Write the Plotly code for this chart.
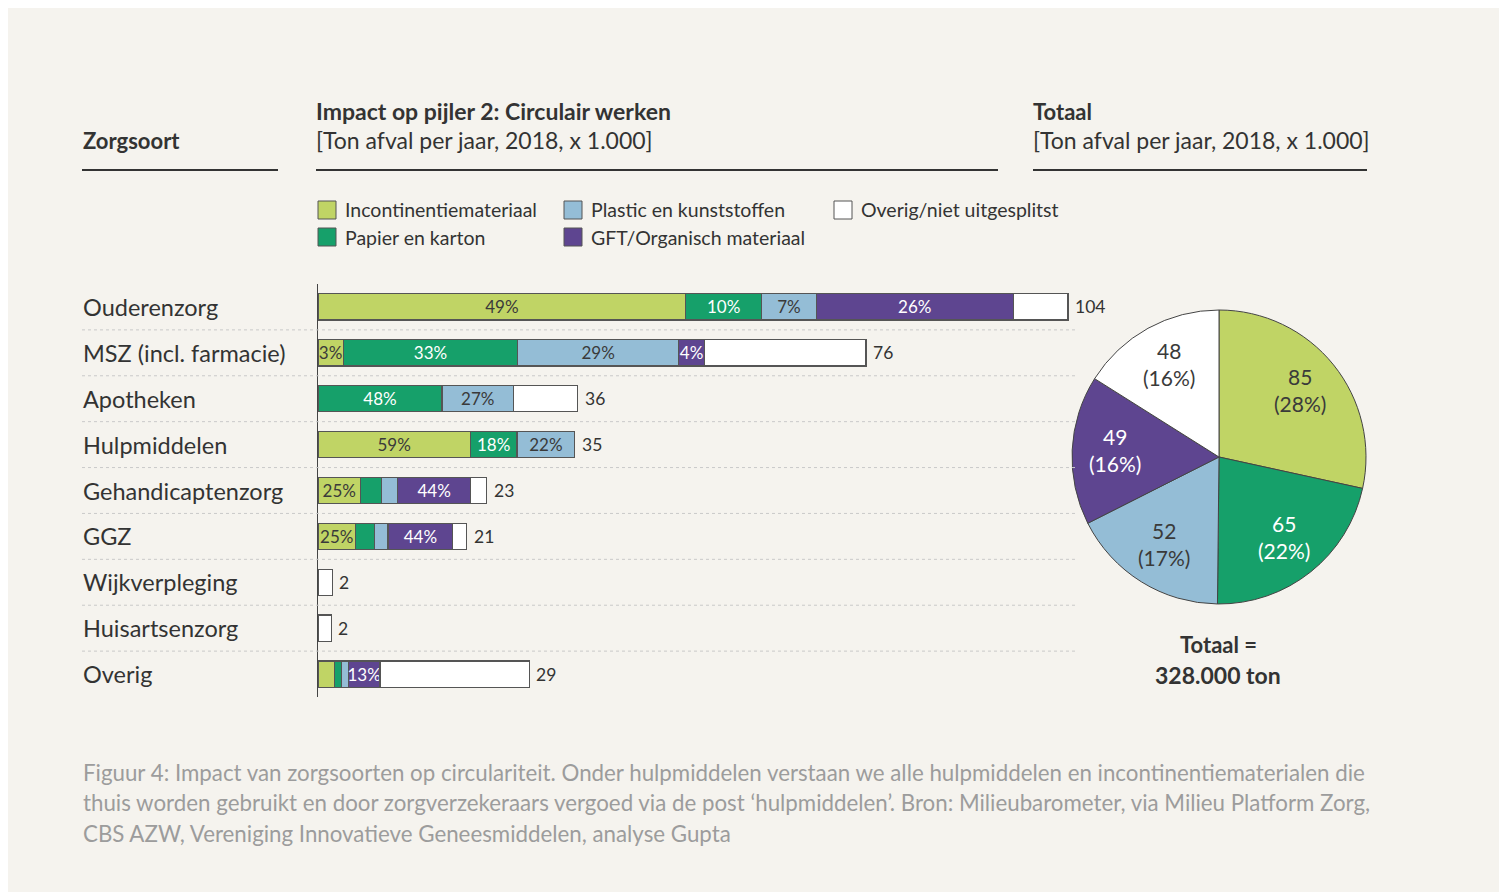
import math
import plotly.graph_objects as go

W, H = 1507, 894
OFF = 8  # page body margin in the browser
FW, FH = W - OFF, H - OFF
def X(px): return (px - OFF) / FW
def Y(py): return 1 - (py - OFF) / FH

# ---------------- data ----------------
categories = ["Ouderenzorg", "MSZ (incl. farmacie)", "Apotheken", "Hulpmiddelen",
              "Gehandicaptenzorg", "GGZ", "Wijkverpleging", "Huisartsenzorg", "Overig"]
totals = [104, 76, 36, 35, 23, 21, 2, 2, 29]

series_names = ["Incontinentiemateriaal", "Papier en karton", "Plastic en kunststoffen",
                "GFT/Organisch materiaal", "Overig/niet uitgesplitst"]
incontinentie = [51.0, 3.5, 0.0, 21.1, 5.9, 5.2, 0.0, 0.0, 2.3]
papier        = [10.5, 24.2, 17.2, 6.5, 2.9, 2.6, 0.0, 0.0, 1.0]
plastic       = [7.6, 22.3, 9.9, 8.0, 2.2, 1.9, 0.0, 0.0, 0.9]
gft           = [27.3, 3.6, 0.0, 0.0, 10.2, 9.0, 0.0, 0.0, 4.4]
overig        = [7.6, 22.4, 8.9, 0.0, 2.2, 1.9, 2.0, 1.85, 20.7]

lbl_incontinentie = ["49%", "3%", "", "59%", "25%", "25%", "", "", ""]
lbl_papier        = ["10%", "33%", "48%", "18%", "", "", "", "", ""]
lbl_plastic       = ["7%", "29%", "27%", "22%", "", "", "", "", ""]
lbl_gft           = ["26%", "4%", "", "", "44%", "44%", "", "", "13%"]
lbl_overig        = ["", "", "", "", "", "", "", "", ""]

pie_values = [85, 65, 52, 49, 48]
pie_labels = ["85<br>(28%)", "65<br>(22%)", "52<br>(17%)", "49<br>(16%)", "48<br>(16%)"]

colors = ["#c0d465", "#16a06a", "#94bdd6", "#5e4590", "#ffffff"]
text_colors = ["#3a3a3a", "#ffffff", "#3a3a3a", "#ffffff", "#3a3a3a"]

BG = "#f5f3ee"
DARK = "#333333"
FONT = "Lato"

fig = go.Figure()

series_vals = [incontinentie, papier, plastic, gft, overig]
series_lbls = [lbl_incontinentie, lbl_papier, lbl_plastic, lbl_gft, lbl_overig]
for name, vals, lbls, col, tcol in zip(series_names, series_vals, series_lbls, colors, text_colors):
    fig.add_trace(go.Bar(
        y=categories, x=vals, orientation="h", name=name,
        marker=dict(color=col, line=dict(color="#555555", width=1.2)),
        text=lbls, textposition="inside", insidetextanchor="middle", textangle=0,
        textfont=dict(color=tcol, size=17, family=FONT),
        cliponaxis=False, showlegend=False, hoverinfo="x+y",
    ))

# pie geometry (pixels)
PCX, PCY, PR = 1219, 457, 147
fig.add_trace(go.Pie(
    values=pie_values, labels=series_names, textinfo="none",
    sort=False, direction="clockwise", rotation=0,
    marker=dict(colors=colors, line=dict(color="#444444", width=1)),
    domain=dict(x=[X(PCX - PR), X(PCX + PR)], y=[Y(PCY + PR), Y(PCY - PR)]),
    showlegend=False,
))

shapes = []
ann = []

# background panel
shapes.append(dict(type="rect", xref="paper", yref="paper", x0=0, x1=X(1501), y0=Y(892), y1=1,
                   fillcolor=BG, line=dict(width=0), layer="below"))

def txt(x, y, s, size, color=DARK, bold=False, anchor="left"):
    if bold:
        s = "<b>" + s + "</b>"
    ann.append(dict(x=X(x), y=Y(y), xref="paper", yref="paper", text=s, showarrow=False,
                    xanchor=anchor, yanchor="middle", font=dict(size=size, color=color, family=FONT)))

# header texts & rules
txt(81, 140, "Zorgsoort", 22, bold=True)
txt(314, 111, "Impact op pijler 2: Circulair werken", 23, bold=True)
txt(314, 140, "[Ton afval per jaar, 2018, x 1.000]", 23)
txt(1031, 111, "Totaal", 22, bold=True)
txt(1031, 140, "[Ton afval per jaar, 2018, x 1.000]", 23)
for x0, x1 in [(82, 278), (316, 998), (1033, 1367)]:
    shapes.append(dict(type="line", xref="paper", yref="paper", x0=X(x0), x1=X(x1), y0=Y(170), y1=Y(170),
                       line=dict(color=DARK, width=2)))

# legend
legend_pos = [(318, 210), (318, 237), (564, 210), (564, 237), (834, 210)]
for (lx, ly), name, col in zip(legend_pos, series_names, colors):
    shapes.append(dict(type="rect", xref="paper", yref="paper", x0=X(lx), x1=X(lx + 18),
                       y0=Y(ly + 9), y1=Y(ly - 9), fillcolor=col, line=dict(color="#555555", width=1)))
    txt(lx + 25, ly, name, 19.5)

# row separators
for i in range(len(categories) - 1):
    shapes.append(dict(type="line", xref="paper", yref="y", x0=X(82), x1=X(1078), y0=i + 0.5, y1=i + 0.5,
                       line=dict(color="#c9c9c9", width=1, dash="3px,3px")))

# category labels and totals (total label placed just after the end of the stacked bar)
for i, (cat, tot) in enumerate(zip(categories, totals)):
    bar_end = sum(s[i] for s in series_vals)
    ann.append(dict(x=X(81), y=cat, xref="paper", yref="y", text=cat, showarrow=False,
                    xanchor="left", yanchor="middle", font=dict(size=23.5, color=DARK, family=FONT)))
    ann.append(dict(x=bar_end, y=cat, xref="x", yref="y", text=str(tot), showarrow=False,
                    xanchor="left", yanchor="middle", xshift=5, font=dict(size=17.5, color=DARK, family=FONT)))

# pie labels, placed at the middle angle of each slice
tot_pie = sum(pie_values)
cum = 0
for v, lab, tcol in zip(pie_values, pie_labels, text_colors):
    theta = 2 * math.pi * (cum + v / 2) / tot_pie
    cum += v
    r = 0.71 * PR
    lx = PCX + r * math.sin(theta)
    ly = PCY - r * math.cos(theta) - 2
    ann.append(dict(x=X(lx), y=Y(ly), xref="paper", yref="paper", text=lab, showarrow=False,
                    xanchor="center", yanchor="middle", align="center",
                    font=dict(size=21, color=tcol, family=FONT)))

# pie total
txt(1218, 644, "Totaal =", 22, bold=True, anchor="center")
txt(1218, 675, "328.000 ton", 23, bold=True, anchor="center")

# caption
cap = ["Figuur 4: Impact van zorgsoorten op circulariteit. Onder hulpmiddelen verstaan we alle hulpmiddelen en incontinentiematerialen die",
       "thuis worden gebruikt en door zorgverzekeraars vergoed via de post ‘hulpmiddelen’. Bron: Milieubarometer, via Milieu Platform Zorg,",
       "CBS AZW, Vereniging Innovatieve Geneesmiddelen, analyse Gupta"]
for i, line in enumerate(cap):
    txt(81, 772 + i * 30.5, line, 22.3, color="#9c9c9c")

scale = 750 / 104
fig.update_layout(
    width=FW, height=FH, margin=dict(l=0, r=0, t=0, b=0),
    paper_bgcolor="#ffffff", plot_bgcolor="rgba(0,0,0,0)",
    barmode="stack", bargap=0.43,
    uniformtext=dict(minsize=17, mode="show"),
    xaxis=dict(domain=[X(318), X(1078)], range=[0, 760 / scale], visible=False, fixedrange=True),
    yaxis=dict(domain=[Y(697), Y(284)], type="category", range=[len(categories) - 0.5, -0.5],
               showticklabels=False, showgrid=False, zeroline=False, ticks="",
               showline=True, linecolor="#444444", linewidth=1.2, fixedrange=True),
    shapes=shapes, annotations=ann,
    font=dict(family=FONT, color=DARK),
)

fig.write_html("out.html")
